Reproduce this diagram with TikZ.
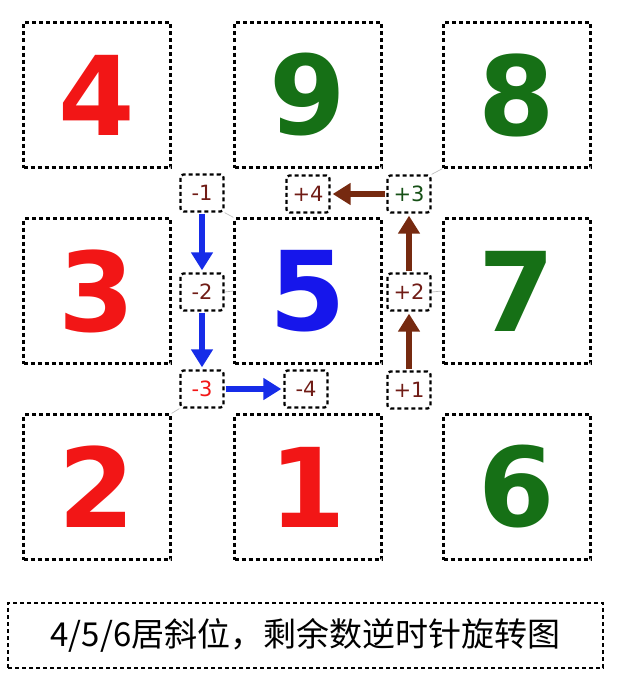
\documentclass[tikz,border=0pt]{standalone}
\usepackage{fontspec}
\setmainfont{DejaVu Sans}
\newfontfamily\cjk{Noto Sans CJK SC}
\usetikzlibrary{arrows.meta}
\definecolor{numred}{RGB}{242,22,22}
\definecolor{numgreen}{RGB}{22,112,22}
\definecolor{numblue}{RGB}{22,22,235}
\definecolor{lblred}{RGB}{112,28,22}
\definecolor{lblgreen}{RGB}{22,80,22}
\definecolor{arrbrown}{RGB}{118,42,16}
\definecolor{arrblue}{RGB}{22,44,232}
\tikzset{
  dbox/.style={draw=black, line width=2.3pt, dash pattern=on 4pt off 3pt},
  bigbox/.style={dbox, minimum width=147pt, minimum height=145pt, inner sep=0pt,
    font=\fontsize{110}{110}\selectfont\bfseries},
  smallbox/.style={dbox, rounded corners=3pt, minimum width=43pt, minimum height=37pt, inner sep=0pt,
    font=\fontsize{21}{21}\selectfont, text=lblred},
  bluearr/.style={draw=arrblue, line width=5.5pt, -{Triangle[width=21pt,length=18pt]}, shorten >=2pt, shorten <=1pt},
  brownarr/.style={draw=arrbrown, line width=5.5pt, -{Triangle[width=21pt,length=18pt]}, shorten >=2pt, shorten <=1pt},
  faint/.style={draw=black!25, line width=0.7pt}
}
\begin{document}
\begin{tikzpicture}[x=1pt,y=-1pt]
\useasboundingbox (0,0) rectangle (620,688);
% big boxes
\node[bigbox, text=numred]   (b4) at (97,95)  {4};
\node[bigbox, text=numgreen] (b9) at (308,95) {9};
\node[bigbox, text=numgreen] (b8) at (517,95) {8};
\node[bigbox, text=numred]   (b3) at (97,291)  {3};
\node[bigbox, text=numblue]  (b5) at (308,291) {5};
\node[bigbox, text=numgreen] (b7) at (517,291) {7};
\node[bigbox, text=numred]   (b2) at (97,487)  {2};
\node[bigbox, text=numred]   (b1) at (308,487) {1};
\node[bigbox, text=numgreen] (b6) at (517,487) {6};
% small boxes
\node[smallbox] (m1) at (202,193) {-1};
\node[smallbox] (m2) at (202,292) {-2};
\node[smallbox, text=numred] (m3) at (202,389) {-3};
\node[smallbox] (m4) at (306,389) {-4};
\node[smallbox] (p1) at (409,390) {+1};
\node[smallbox] (p2) at (409,292) {+2};
\node[smallbox, text=lblgreen] (p3) at (409,194) {+3};
\node[smallbox] (p4) at (308,194) {+4};
% faint connectors
\draw[faint] (m1.south east) -- (b5.north west);
\draw[faint] (m2.east) -- (b5.west);
\draw[faint] (m3.south west) -- (b2.north east);
\draw[faint] (p2.east) -- (b7.west);
\draw[faint] (p3.north east) -- (b8.south west);
% arrows
\draw[bluearr] (m1) -- (m2);
\draw[bluearr] (m2) -- (m3);
\draw[bluearr] (m3) -- (m4);
\draw[brownarr] (p1) -- (p2);
\draw[brownarr] (p2) -- (p3);
\draw[brownarr] (p3) -- (p4);
% caption
\node[dbox, minimum width=595pt, minimum height=65pt, inner sep=0pt,
  font=\cjk\fontsize{33}{33}\selectfont] (cap) at (305.5,635.5) {4/5/6居斜位，剩余数逆时针旋转图};
\end{tikzpicture}
\end{document}
